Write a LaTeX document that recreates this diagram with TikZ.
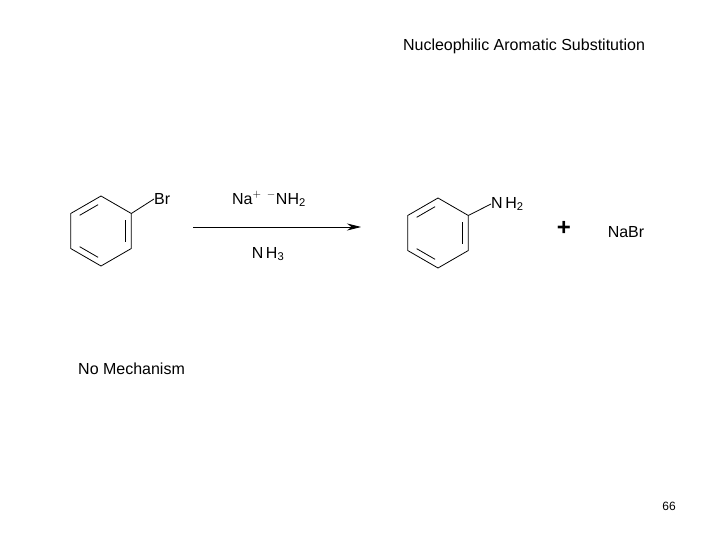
\documentclass[tikz,border=0pt]{standalone}
\usepackage{fontspec}
\setmainfont{Liberation Sans}
\usetikzlibrary{arrows.meta,calc}
\begin{document}
\begin{tikzpicture}[x=1pt,y=-1pt,
  lbl/.style={inner sep=0pt,font=\fontsize{16}{18}\selectfont},
  chem/.style={inner sep=0pt,font=\fontsize{16}{18}\selectfont},
  bond/.style={line width=0.8pt}]
\useasboundingbox (0,0) rectangle (720,540);
\newcommand{\mybenz}[3]{%
  \coordinate (#3c) at (#1,#2);
  \foreach \a in {30,90,150,210,270,330} \coordinate (#3\a) at ($(#3c)+(\a:35)$);
  \draw[bond] (#330)--(#390)--(#3150)--(#3210)--(#3270)--(#3330)--cycle;
  \foreach \p/\q in {270/210,150/90,330/30}{
    \coordinate (#3i1) at ($(#3c)!0.8!(#3\p)$);
    \coordinate (#3i2) at ($(#3c)!0.8!(#3\q)$);
    \draw[bond] ($(#3i1)!0.12!(#3i2)$)--($(#3i2)!0.12!(#3i1)$);}
}
\node[lbl] (title) at (524,46) {Nucleophilic Aromatic Substitution};
\mybenz{101}{231}{a}
\node[chem,anchor=west] (br) at (154,199) {Br};
\draw[bond] (a330)--(br.west);
\node[chem] (re1) at (269,199) {Na$^{+}$\,\,$^{-}$NH\textsubscript{2}};
\coordinate (as) at (193,227);
\coordinate (ae) at (361,227);
\draw[bond,-{Stealth[length=14pt,width=7pt]}] (as)--(ae);
\node[chem] (re2) at (268,254) {N\,H\textsubscript{3}};
\mybenz{438}{233}{b}
\node[chem,anchor=west] (nh) at (491,204) {N\,H\textsubscript{2}};
\draw[bond] (b330)--(nh.west);
\node[inner sep=0pt,font=\fontsize{24}{26}\selectfont\bfseries] (plus) at (564,228) {+};
\node[chem] (nabr) at (626,232) {NaBr};
\node[lbl,anchor=west] (nm) at (78,369) {No Mechanism};
\node[inner sep=0pt,font=\fontsize{12}{14}\selectfont] (pg) at (669,506) {66};
\end{tikzpicture}
\end{document}
